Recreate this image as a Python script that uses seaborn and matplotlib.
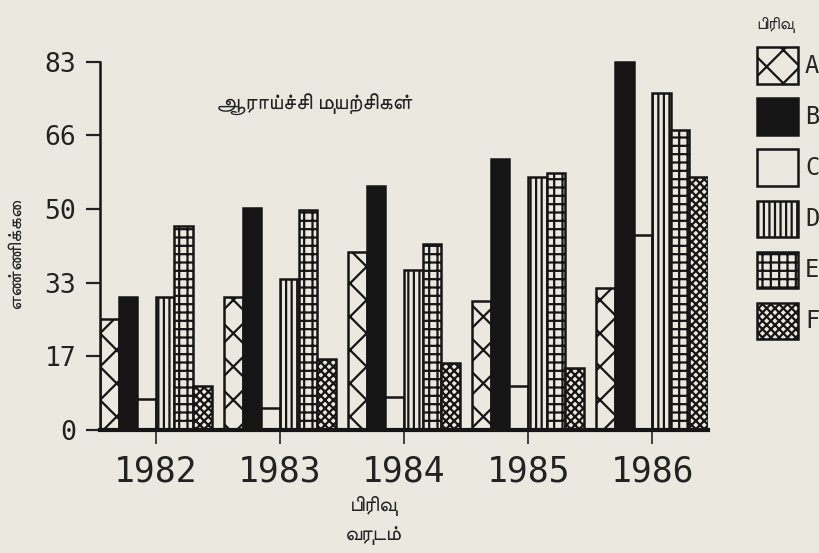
import pandas as pd
import matplotlib
matplotlib.use("Agg")
import matplotlib.pyplot as plt
from matplotlib import font_manager
from matplotlib.ft2font import FT2Font
from matplotlib.patches import Patch
import seaborn as sns

years = ["1982", "1983", "1984", "1985", "1986"]
groups = ["A", "B", "C", "D", "E", "F"]
vals_a = [25, 30, 40, 29, 32]
vals_b = [30, 50, 55, 61, 83]
vals_c = [7, 5, 7.5, 10, 44]
vals_d = [30, 34, 36, 57, 76]
vals_e = [46, 49.5, 42, 58, 67.5]
vals_f = [10, 16, 15, 14, 57]
y_ticks = [0, 16.6, 33.2, 49.8, 66.4, 83]
y_tick_labels = ["0", "17", "33", "50", "66", "83"]

title = "ஆராய்ச்சி முயற்சிகள்"
ylabel = "எண்ணிக்கை"
xlabel = "பிரிவு\nவருடம்"
legend_title = "பிரிவு"


def tamil_font():
    # first installed family with Tamil glyphs, skipping the bitmap-ish Unifont
    names = []
    for f in font_manager.fontManager.ttflist:
        try:
            if ord("த") in FT2Font(f.fname).get_charmap():
                names.append(f.name)
        except Exception:
            pass
    nice = [n for n in names if "unifont" not in n.lower()]
    if "FreeSans" in nice:
        return "FreeSans"
    return (nice or names or ["DejaVu Sans"])[0]


paper = "#ebe8e0"
ink = "#151515"
sns.set_style("white")
plt.rcParams["font.family"] = [tamil_font(), "DejaVu Sans"]
plt.rcParams["hatch.linewidth"] = 1.6
plt.rcParams["hatch.color"] = "#1a1a1a"

series = [vals_a, vals_b, vals_c, vals_d, vals_e, vals_f]
df = pd.DataFrame(
    [(y, g, v[i]) for g, v in zip(groups, series) for i, y in enumerate(years)],
    columns=["year", "group", "value"],
)

fills = {"A": paper, "B": ink, "C": paper, "D": paper, "E": paper, "F": paper}
hatches = {"A": "x", "B": "", "C": "", "D": "|||", "E": "++", "F": "xxxx"}

fig = plt.figure(figsize=(8.19, 5.53), dpi=100, facecolor=paper)
ax = fig.add_axes([100 / 819, 123 / 553, 608 / 819, 375 / 553])
ax.set_facecolor(paper)

sns.barplot(data=df, x="year", y="value", hue="group", hue_order=groups,
            palette=fills, width=0.9, edgecolor=ink, linewidth=1.8,
            saturation=1, legend=False, ax=ax)

for cont, g in zip(ax.containers, groups):
    for bar in cont:
        bar.set_hatch(hatches[g])

ax.set_xlim(-0.45, 4.45)
ax.set_ylim(0, 84.5)
ax.set_yticks(y_ticks)
ax.set_yticklabels(y_tick_labels, family="DejaVu Sans Mono", fontsize=19, color="#222")
ax.set_xticklabels(years, family="DejaVu Sans Mono", fontsize=25, color="#222")
ax.tick_params(axis="y", direction="out", length=10, width=1.6, pad=7, left=True, colors="#222")
ax.tick_params(axis="x", direction="out", length=10, width=1.2, pad=8, bottom=True, colors="#222")

sns.despine(ax=ax)
ax.spines["left"].set_bounds(0, 83)
ax.spines["left"].set_linewidth(1.8)
ax.spines["bottom"].set_linewidth(3)
for s in ("left", "bottom"):
    ax.spines[s].set_color(ink)

ax.set_xlabel(xlabel, fontsize=15, linespacing=1.6, color="#222")
ax.xaxis.set_label_coords(0.45, -0.175)
ax.set_ylabel(ylabel, fontsize=14, color="#222")
ax.yaxis.set_label_coords(-0.125, 0.47)

ax.text(0.19, 0.855, title, transform=ax.transAxes, fontsize=16, color="#222")

handles = [Patch(facecolor=fills[g], edgecolor=ink, hatch=hatches[g], linewidth=1.8)
           for g in groups]
leg = fig.legend(handles, groups, loc="upper left", bbox_to_anchor=(740 / 819, 1.0),
                 frameon=False, prop={"family": "DejaVu Sans Mono", "size": 17},
                 title=legend_title, title_fontsize=12,
                 handlelength=1.75, handleheight=2.0, labelspacing=0.62, handletextpad=0.3,
                 alignment="left", borderpad=0.2)

fig.savefig("out.png", dpi=100, facecolor=paper)
